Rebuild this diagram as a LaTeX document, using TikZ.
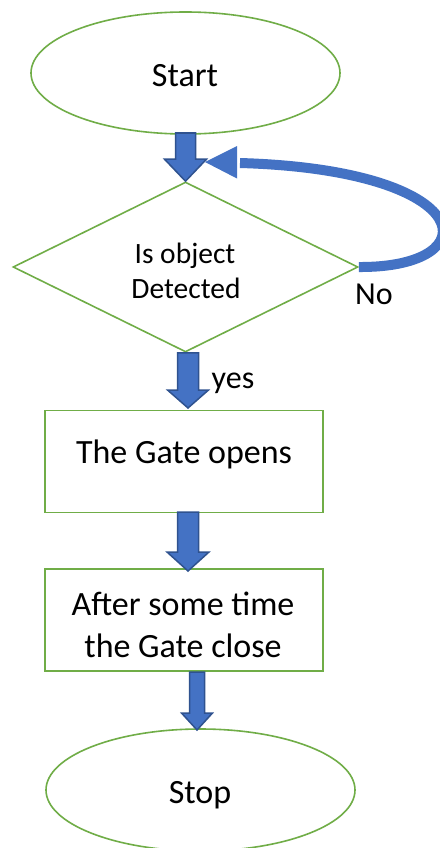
\documentclass[tikz,border=0pt]{standalone}
\usepackage{fontspec}
\setmainfont{Carlito}
\usetikzlibrary{shapes.geometric,calc}
\definecolor{fgreen}{HTML}{70AD47}
\definecolor{fblue}{HTML}{4472C4}
\definecolor{fnavy}{HTML}{2F528F}
\tikzset{
  outline/.style={draw=fgreen, line width=1.6pt, fill=white, inner sep=0pt},
  term/.style={outline, ellipse, minimum width=309pt, minimum height=122pt},
  decision/.style={outline, diamond, minimum width=345pt, minimum height=170pt},
  process/.style={outline, rectangle, minimum width=278pt, minimum height=102pt},
  txt/.style={anchor=base, inner sep=0pt, font=\fontsize{34}{40}\selectfont},
  smalltxt/.style={anchor=base, inner sep=0pt, font=\fontsize{29.5}{36}\selectfont},
  blk/.style={fill=fblue, draw=fnavy, line width=1.5pt, line join=miter},
  loopline/.style={draw=fblue, line width=10pt},
}
% block arrow from #1 (start level) to #2 (tip); #3 shaft half width, #4 head half width, #5 head length
\newcommand\blockarr[5]{%
  \draw[blk] let \p1=(#1), \p2=(#2) in
    (\x2-#3,\y1) -- (\x2+#3,\y1) -- (\x2+#3,\y2+#5) -- (\x2+#4,\y2+#5)
    -- (\x2,\y2) -- (\x2-#4,\y2+#5) -- (\x2-#3,\y2+#5) -- cycle;}
\begin{document}
\begin{tikzpicture}[x=1pt,y=-1pt]
\useasboundingbox (0,0) rectangle (439,848);
\fill[white] (0,0) rectangle (439,848);

% shapes
\node[term] (start) at (185.5,73) {};
\node[decision] (dec) at (185.5,267) {};
\node[process] (open) at (184,461.5) {};
\node[process] (close) at (184,620) {};
\node[term] (stop) at (200.5,790) {};

% texts
\node[txt] (tstart) at (185,87) {Start};
\node[smalltxt] (tdec1) at (185,263) {Is object};
\node[smalltxt] (tdec2) at (186,298) {Detected};
\node[txt] (topen) at (184,463) {The Gate opens};
\node[txt] (tclose1) at (183,615) {After some time};
\node[txt] (tclose2) at (183,657) {the Gate close};
\node[txt] (tstop) at (200,803) {Stop};
\node[txt, font=\fontsize{32}{38}\selectfont] (tno) at (374,304) {No};
\node[txt, font=\fontsize{32}{38}\selectfont] (tyes) at (233,388) {yes};

% arrow tips
\coordinate (s1) at (185,133);
\coordinate (tip2) at (188,408);
\coordinate (tip3) at (188,571);
\coordinate (s3) at (188,512);
\coordinate (tip4) at (197,730);
\coordinate (s4) at (197,672);

\blockarr{s1}{dec.north}{10pt}{21pt}{22pt}
\blockarr{dec.south}{tip2}{10.5pt}{20.5pt}{18pt}
\blockarr{s3}{tip3}{10.5pt}{21pt}{19pt}
\blockarr{s4}{tip4}{7.5pt}{15.5pt}{17pt}

% loop back (No)
\coordinate (loopend) at (240,163);
\coordinate (looptip) at (205,162);
\draw[loopline] (dec.east) .. controls (490,268) and (480,170) .. (loopend);
\fill[fblue] (looptip) -- (237,146) -- (237,178.5) -- cycle;
\end{tikzpicture}
\end{document}
